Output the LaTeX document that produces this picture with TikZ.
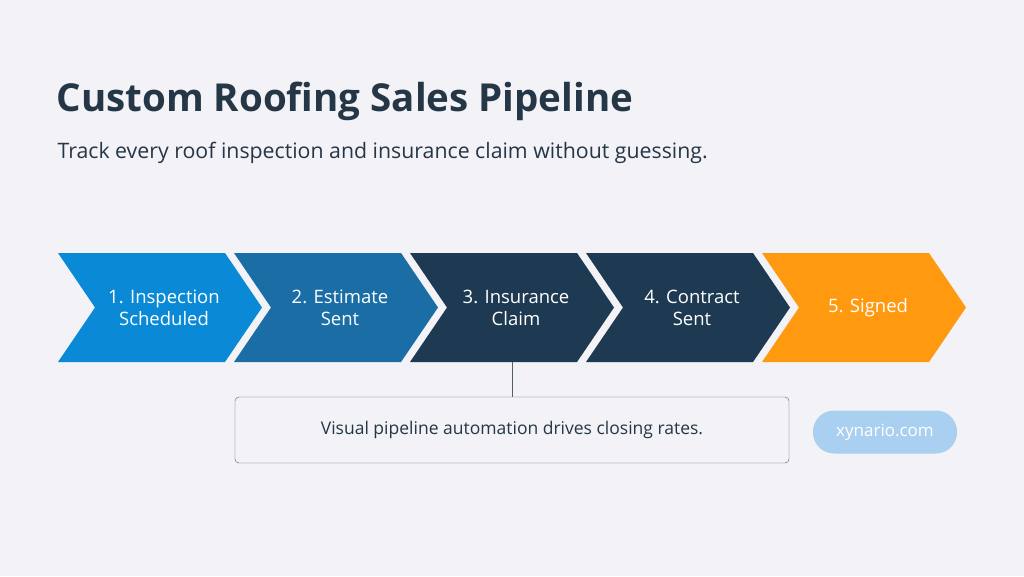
\documentclass[tikz,border=0pt]{standalone}
\usepackage{fontspec}
\setmainfont{Open Sans}
\newfontfamily\titlefont{Open Sans Bold}
\begin{document}
\begin{tikzpicture}[x=1pt,y=-1pt,
  lbl/.style={text=white,font=\fontsize{18.5}{22}\selectfont,align=center}]
\definecolor{bg}{HTML}{F2F2F7}
\definecolor{cA}{HTML}{0A8AD6}
\definecolor{cB}{HTML}{1A6EA5}
\definecolor{cC}{HTML}{1E3A52}
\definecolor{cE}{HTML}{FF9A10}
\definecolor{ink}{HTML}{253746}
\definecolor{pill}{HTML}{A9D0F0}
\fill[bg] (0,0) rectangle (1024,576);
\useasboundingbox (0,0) rectangle (1024,576);
\node[anchor=west,text=ink,font=\fontsize{38.5}{44}\titlefont] (title) at (53,101) {Custom Roofing Sales Pipeline};
\node[anchor=west,text=ink,font=\fontsize{21.3}{25}\selectfont] (sub) at (54,153) {Track every roof inspection and insurance claim without guessing.};
\foreach \i/\c/\t in {0/cA/{1. Inspection\\Scheduled},1/cB/{2. Estimate\\Sent},2/cC/{3. Insurance\\Claim},3/cC/{4. Contract\\Sent},4/cE/{5. Signed}}{
  \pgfmathsetmacro{\L}{58+176*\i}
  \fill[\c] (\L,253) -- (\L+167,253) -- (\L+204,307.5) -- (\L+167,362) -- (\L,362) -- (\L+37,307.5) -- cycle;
  \node[lbl] (s\i) at (\L+106,308) {\t};
}
\node[draw=ink!80,rounded corners=4pt,minimum width=554pt,minimum height=66pt,fill=bg,
  font=\fontsize{17.5}{20}\selectfont,text=ink] (note) at (512,430) {Visual pipeline automation drives closing rates.};
\coordinate (top) at (512,362);
\draw[ink!80,line width=0.8pt] (top) -- (note.north);
\node[fill=pill,rounded corners=21pt,minimum width=144pt,minimum height=43pt,text=white,
  font=\fontsize{17}{20}\selectfont] (pill) at (885,432) {xynario.com};
\end{tikzpicture}
\end{document}
